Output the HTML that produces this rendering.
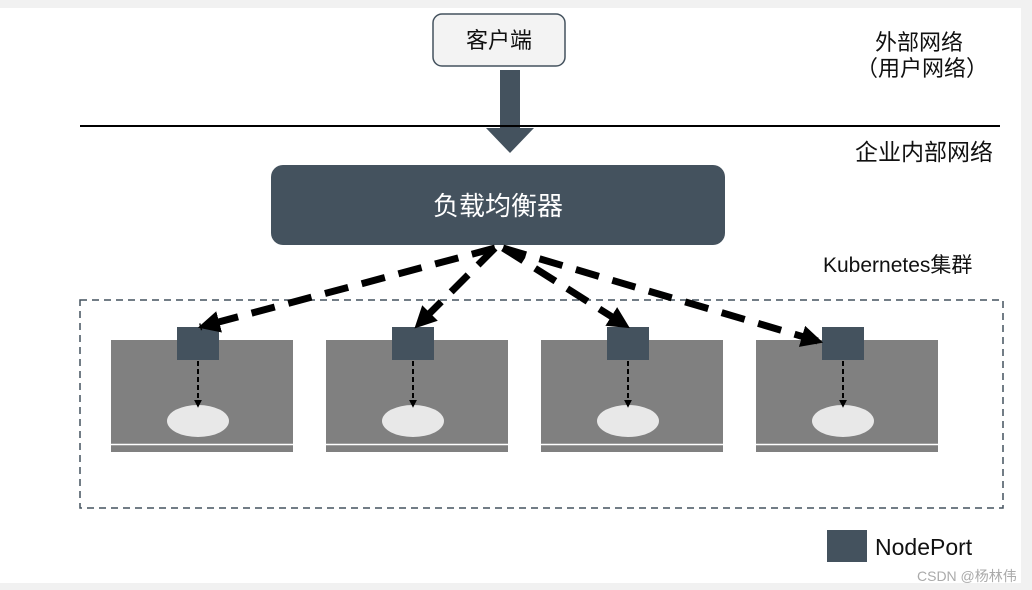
<!DOCTYPE html>
<html><head><meta charset="utf-8"><style>
html,body{margin:0;padding:0;width:1032px;height:590px;overflow:hidden;background:#f1f1f1;}
svg{display:block}
text{font-family:"Liberation Sans","Noto Sans CJK SC",sans-serif;}
</style></head><body>
<svg width="1032" height="590" viewBox="0 0 1032 590">
<defs>
<marker id="ah" viewBox="0 0 10 10" refX="9" refY="5" markerWidth="22" markerHeight="22" markerUnits="userSpaceOnUse" orient="auto"><path d="M0,0 L10,5 L0,10 z" fill="#000"/></marker>
<marker id="sm" viewBox="0 0 10 10" refX="9" refY="5" markerWidth="8" markerHeight="8" markerUnits="userSpaceOnUse" orient="auto"><path d="M0,0 L10,5 L0,10 z" fill="#000"/></marker>
</defs>
<rect x="0" y="8" width="1021" height="575" fill="#fff"/>
<rect x="433" y="14" width="132" height="52" rx="9" fill="#f3f3f3" stroke="#44525e" stroke-width="1.5"/>
<text x="499" y="48" font-size="22" text-anchor="middle" fill="#111">客户端</text>
<rect x="500" y="70" width="20" height="60" fill="#44525e"/>
<path d="M486,128 L534,128 L510,153 z" fill="#44525e"/>
<line x1="80" y1="126" x2="1000" y2="126" stroke="#000" stroke-width="2"/>
<text x="875" y="50" font-size="22" fill="#111">外部网络</text>
<text x="856" y="76" font-size="22" fill="#111">（用户网络）</text>
<text x="855" y="160" font-size="23" fill="#111">企业内部网络</text>
<text x="823" y="272" font-size="21" fill="#111">Kubernetes集群</text>
<rect x="271" y="165" width="454" height="80" rx="12" fill="#44525e"/>
<text x="498" y="215" font-size="26" text-anchor="middle" fill="#fff">负载均衡器</text>
<rect x="80" y="300" width="923" height="208" fill="none" stroke="#44525e" stroke-width="1.5" stroke-dasharray="7,5"/>
<g fill="#808080">
<rect x="111" y="340" width="182" height="112"/>
<rect x="326" y="340" width="182" height="112"/>
<rect x="541" y="340" width="182" height="112"/>
<rect x="756" y="340" width="182" height="112"/>
</g>
<g stroke="#fff" stroke-width="1.5">
<line x1="111" y1="444.5" x2="293" y2="444.5"/><line x1="326" y1="444.5" x2="508" y2="444.5"/>
<line x1="541" y1="444.5" x2="723" y2="444.5"/><line x1="756" y1="444.5" x2="938" y2="444.5"/>
</g>
<g fill="#e8e8e8">
<ellipse cx="198" cy="421" rx="31" ry="16"/><ellipse cx="413" cy="421" rx="31" ry="16"/>
<ellipse cx="628" cy="421" rx="31" ry="16"/><ellipse cx="843" cy="421" rx="31" ry="16"/>
</g>
<g fill="#44525e">
<rect x="177" y="327" width="42" height="33"/><rect x="392" y="327" width="42" height="33"/>
<rect x="607" y="327" width="42" height="33"/><rect x="822" y="327" width="42" height="33"/>
</g>
<g stroke="#000" stroke-width="2" stroke-dasharray="5,3" marker-end="url(#sm)">
<line x1="198" y1="361" x2="198" y2="407"/><line x1="413" y1="361" x2="413" y2="407"/>
<line x1="628" y1="361" x2="628" y2="407"/><line x1="843" y1="361" x2="843" y2="407"/>
</g>
<g stroke="#000" stroke-width="7" stroke-dasharray="24,14" fill="none" marker-end="url(#ah)">
<line x1="495" y1="248" x2="200" y2="327"/>
<line x1="495" y1="248" x2="416" y2="327"/>
<line x1="503" y1="248" x2="628" y2="327"/>
<line x1="503" y1="248" x2="821" y2="342"/>
</g>
<rect x="827" y="530" width="40" height="32" fill="#44525e"/>
<text x="875" y="555" font-size="23" fill="#111">NodePort</text>
<text x="917" y="581" font-size="14" fill="#aaa">CSDN @杨林伟</text>
</svg>
</body></html>
